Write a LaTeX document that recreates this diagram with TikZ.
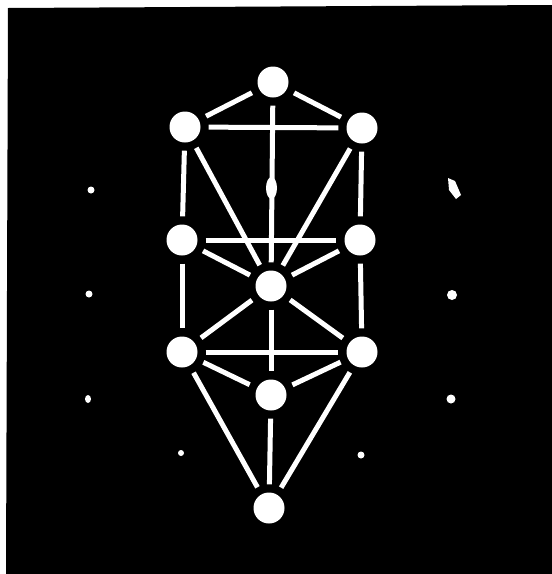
\documentclass[tikz,border=0pt]{standalone}
\begin{document}
\begin{tikzpicture}[x=1pt,y=-1pt,
  sephira/.style={circle,fill=white,draw=none,minimum size=31pt,inner sep=0pt},
  path/.style={draw=white,line width=5pt,shorten >=8pt,shorten <=8pt},
  speck/.style={fill=white,draw=none}]
\useasboundingbox (0,0) rectangle (552,574);
\fill[white] (0,0) rectangle (552,574);
\fill[black] (8,8) -- (552,5) -- (552,574) -- (6,574) -- cycle;
% nodes
\node[sephira] (kether) at (273,82) {};
\node[sephira] (chokmah) at (362,128) {};
\node[sephira] (binah) at (185,127) {};
\node[sephira] (chesed) at (360,240) {};
\node[sephira] (geburah) at (182,240) {};
\node[sephira] (tiphareth) at (271,286) {};
\node[sephira] (netzach) at (362,352) {};
\node[sephira] (hod) at (182,352) {};
\node[sephira] (yesod) at (271,395) {};
\node[sephira] (malkuth) at (269,508) {};
% paths
\draw[path] (kether) -- (binah);
\draw[path] (kether) -- (chokmah);
\draw[path] (binah) -- (chokmah);
\draw[path] (kether) -- (tiphareth);
\draw[path] (binah) -- (geburah);
\draw[path] (chokmah) -- (chesed);
\draw[path] (binah) -- (tiphareth);
\draw[path] (chokmah) -- (tiphareth);
\draw[path] (geburah) -- (chesed);
\draw[path] (geburah) -- (tiphareth);
\draw[path] (chesed) -- (tiphareth);
\draw[path] (geburah) -- (hod);
\draw[path] (chesed) -- (netzach);
\draw[path] (tiphareth) -- (hod);
\draw[path] (tiphareth) -- (netzach);
\draw[path] (tiphareth) -- (yesod);
\draw[path] (hod) -- (netzach);
\draw[path] (hod) -- (yesod);
\draw[path] (netzach) -- (yesod);
\draw[path] (yesod) -- (malkuth);
\draw[path] (hod) -- (malkuth);
\draw[path] (netzach) -- (malkuth);
% spindle on middle pillar
\fill[white] (271.5,188) ellipse (5.5pt and 11pt);
% small specks
\fill[speck] (91,190) circle (3.5pt);
\fill[speck] (89,294) circle (3.5pt);
\fill[speck] (88,399) ellipse (3pt and 4pt);
\fill[speck] (181,453) circle (3pt);
\fill[speck] (361,455) circle (3.5pt);
\fill[speck] (448,178) -- (455,181) -- (461,195) -- (456,199) -- (449,190) -- cycle;
\fill[speck] (452,295) circle (5pt);
\fill[speck] (451,399) circle (4.5pt);
\end{tikzpicture}
\end{document}
